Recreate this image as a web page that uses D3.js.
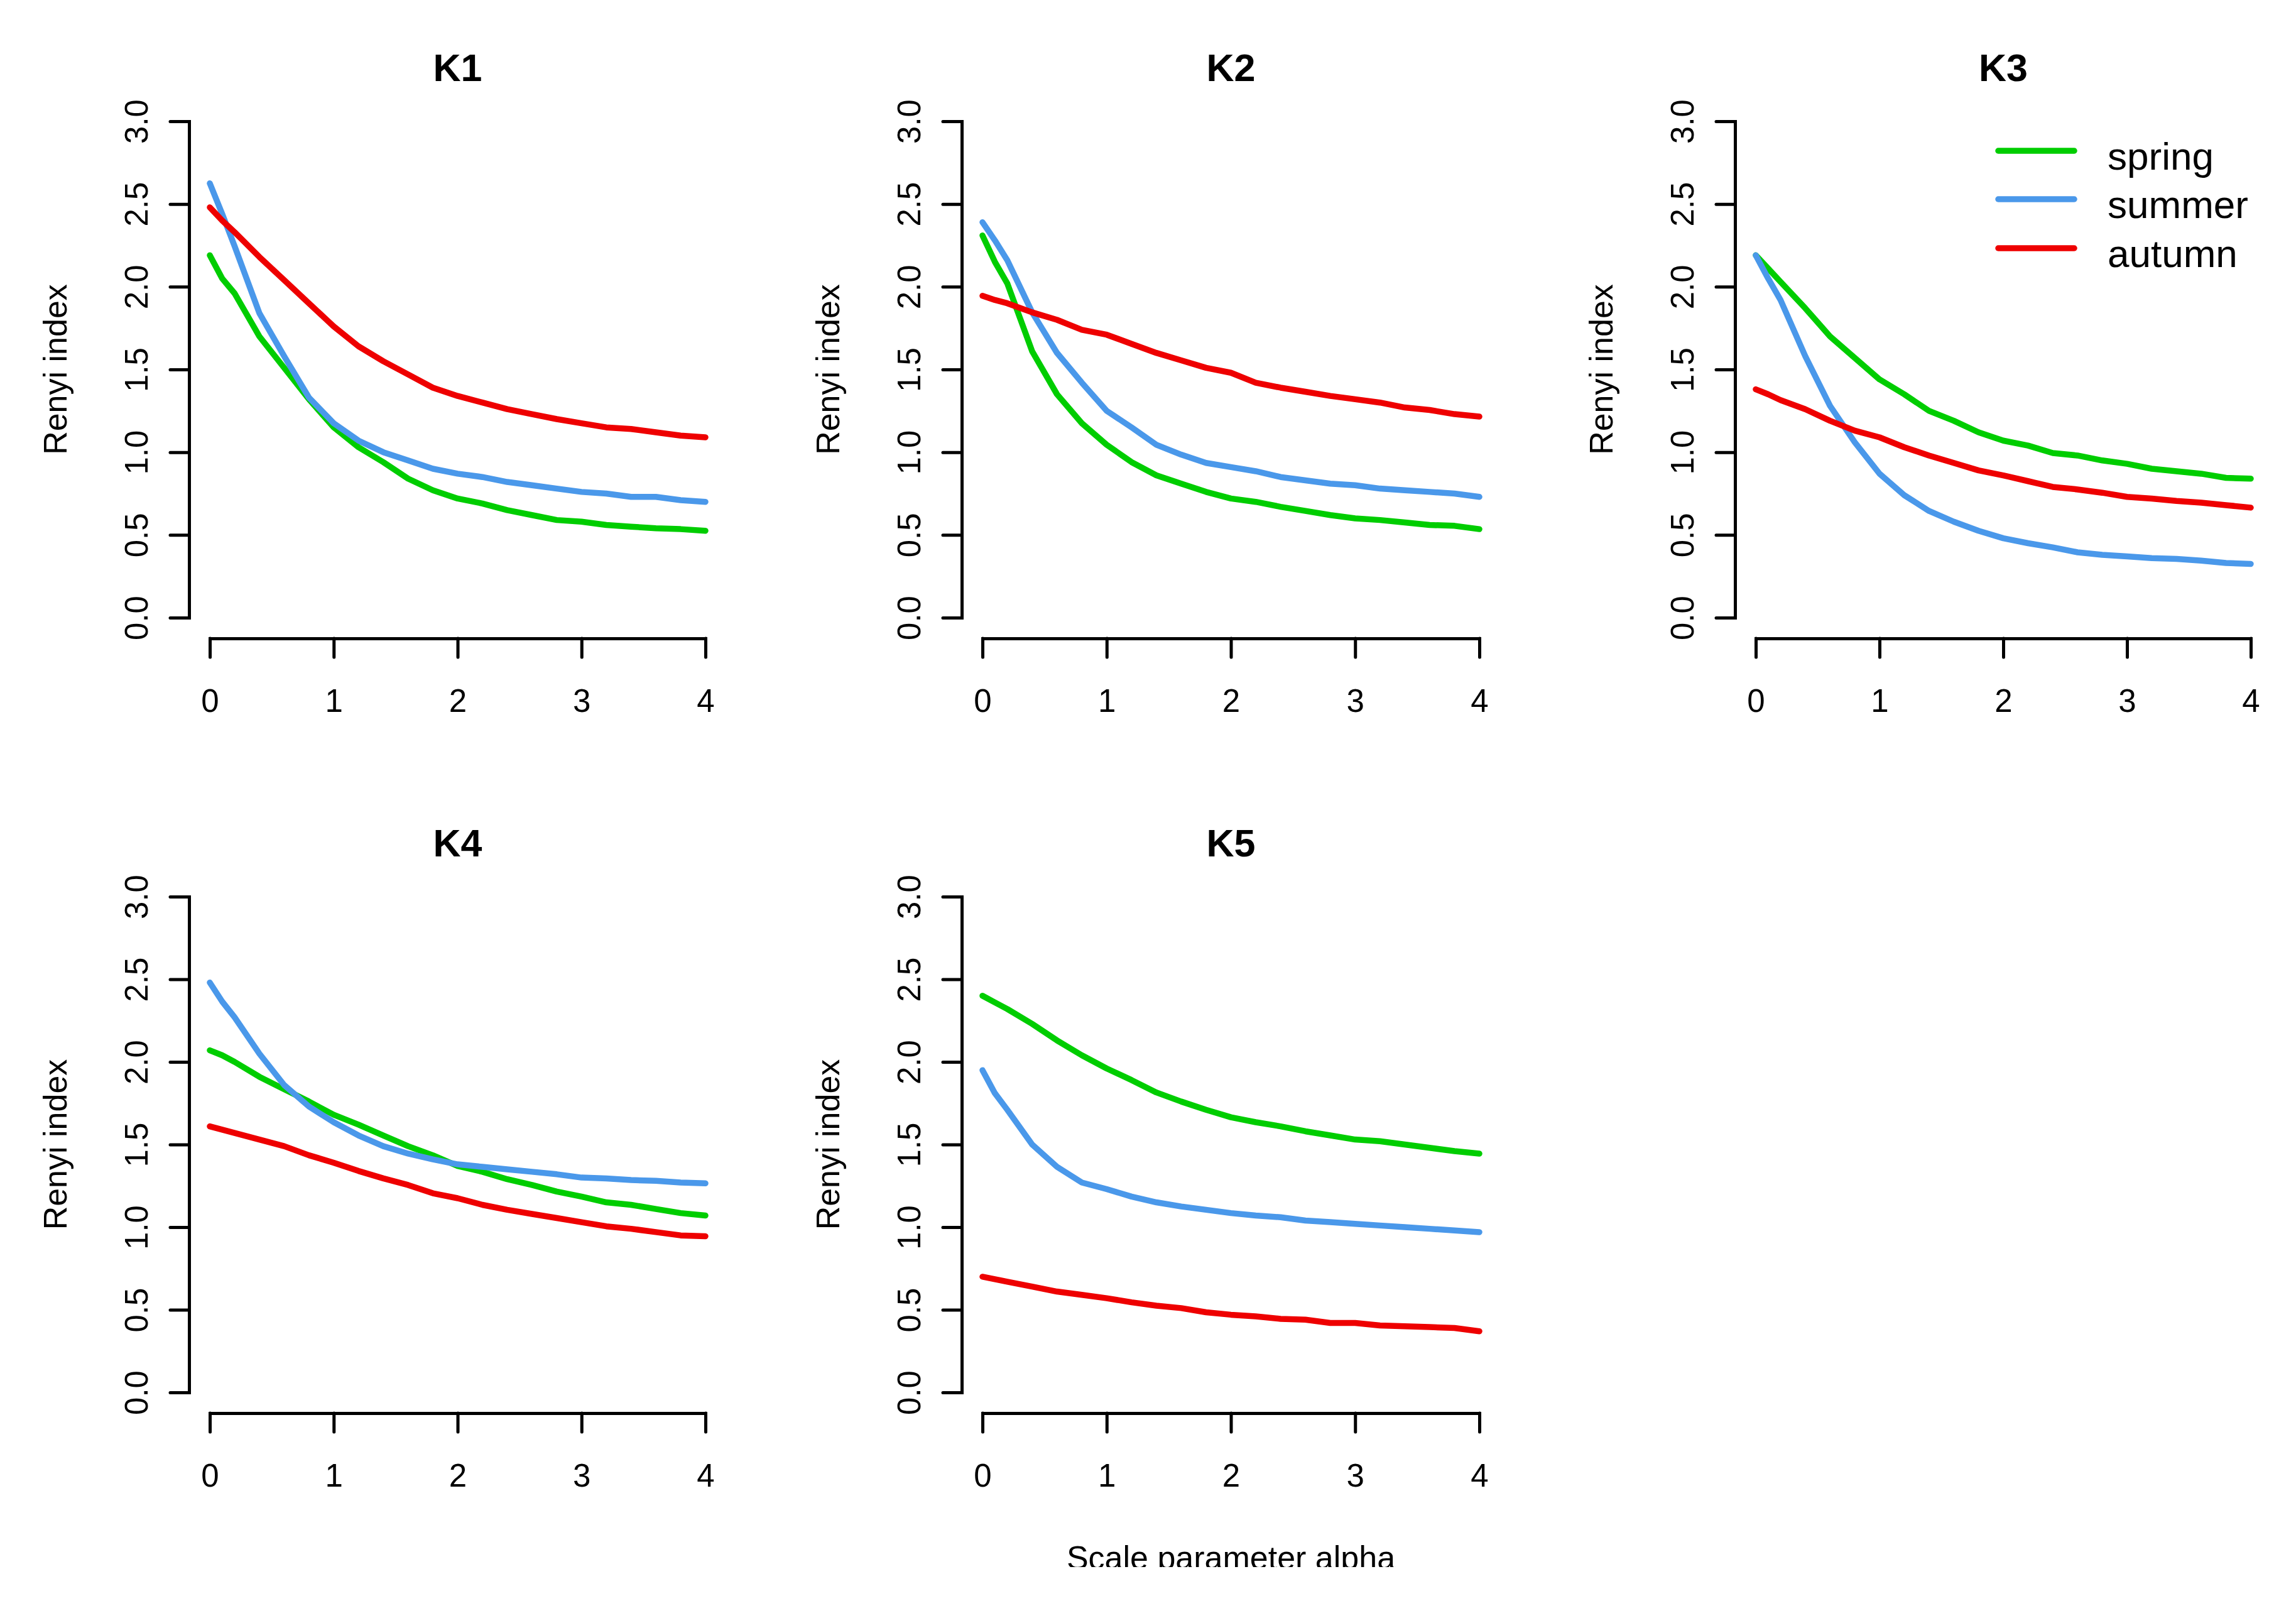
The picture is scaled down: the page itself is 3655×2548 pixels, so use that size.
<!DOCTYPE html>
<html>
<head>
<meta charset="utf-8">
<script src="https://cdn.jsdelivr.net/npm/d3@7"></script>
<style>
  html, body { margin: 0; padding: 0; background: #ffffff; }
  svg { display: block; }
  text { font-family: "Liberation Sans", Arial, sans-serif; fill: #000; }
</style>
</head>
<body>
<svg id="chart" width="3655" height="2548"></svg>
<script>
// ---------------- data ----------------
const alpha = [0,0.1,0.2,0.4,0.6,0.8,1.0,1.2,1.4,1.6,1.8,2.0,2.2,2.4,2.6,2.8,3.0,3.2,3.4,3.6,3.8,4.0];

const K1_spring = [2.19,2.05,1.96,1.70,1.51,1.32,1.15,1.03,0.94,0.84,0.77,0.72,0.69,0.65,0.62,0.59,0.58,0.56,0.55,0.54,0.535,0.525];
const K1_summer = [2.625,2.44,2.245,1.84,1.58,1.33,1.175,1.07,1.00,0.95,0.90,0.87,0.85,0.82,0.80,0.78,0.76,0.75,0.73,0.73,0.71,0.70];
const K1_autumn = [2.48,2.40,2.33,2.18,2.04,1.90,1.76,1.64,1.55,1.47,1.39,1.34,1.30,1.26,1.23,1.20,1.175,1.15,1.14,1.12,1.10,1.09];

const K2_spring = [2.31,2.15,2.02,1.61,1.35,1.175,1.045,0.94,0.86,0.81,0.76,0.72,0.70,0.67,0.645,0.62,0.60,0.59,0.575,0.56,0.555,0.535];
const K2_summer = [2.39,2.28,2.16,1.845,1.60,1.42,1.25,1.15,1.045,0.985,0.935,0.91,0.885,0.85,0.83,0.81,0.80,0.78,0.77,0.76,0.75,0.73];
const K2_autumn = [1.945,1.92,1.90,1.845,1.80,1.74,1.71,1.655,1.60,1.555,1.51,1.48,1.42,1.39,1.365,1.34,1.32,1.30,1.27,1.255,1.23,1.215];

const K3_spring = [2.19,2.11,2.03,1.87,1.70,1.57,1.44,1.35,1.25,1.19,1.12,1.07,1.04,0.995,0.98,0.95,0.93,0.90,0.885,0.87,0.845,0.84];
const K3_summer = [2.19,2.05,1.92,1.58,1.28,1.06,0.87,0.74,0.645,0.58,0.525,0.48,0.45,0.425,0.395,0.38,0.37,0.36,0.355,0.345,0.33,0.325];
const K3_autumn = [1.38,1.35,1.315,1.26,1.19,1.13,1.09,1.03,0.98,0.935,0.89,0.86,0.825,0.79,0.775,0.755,0.73,0.72,0.705,0.695,0.68,0.665];

const K4_spring = [2.07,2.04,2.00,1.91,1.835,1.76,1.68,1.62,1.555,1.49,1.435,1.37,1.335,1.29,1.255,1.215,1.185,1.15,1.135,1.11,1.085,1.07];
const K4_summer = [2.48,2.365,2.27,2.05,1.86,1.73,1.635,1.555,1.49,1.445,1.41,1.38,1.365,1.35,1.335,1.32,1.30,1.295,1.285,1.28,1.27,1.265];
const K4_autumn = [1.61,1.59,1.57,1.53,1.49,1.435,1.39,1.34,1.295,1.255,1.205,1.175,1.135,1.105,1.08,1.055,1.03,1.005,0.99,0.97,0.95,0.945];

const K5_spring = [2.40,2.36,2.32,2.23,2.13,2.04,1.96,1.89,1.815,1.76,1.71,1.665,1.635,1.61,1.58,1.555,1.53,1.52,1.50,1.48,1.46,1.445];
const K5_summer = [1.95,1.81,1.71,1.50,1.365,1.27,1.23,1.185,1.15,1.125,1.105,1.085,1.07,1.06,1.04,1.03,1.02,1.01,1.00,0.99,0.98,0.97];
const K5_autumn = [0.70,0.685,0.67,0.64,0.61,0.59,0.57,0.545,0.525,0.51,0.485,0.47,0.46,0.445,0.44,0.42,0.42,0.405,0.40,0.395,0.39,0.37];

const panelNames = ["K1","K2","K3","K4","K5"];
const seasons = ["spring","summer","autumn"];
const xTicks = [0,1,2,3,4];
const yTicks = [0,0.5,1,1.5,2,2.5,3];
const yLabel = "Renyi index";
const xLabel = "Scale parameter alpha";

// ---------------- styling / layout ----------------
const colors = { spring: "#00CD00", summer: "#4A98EA", autumn: "#EE0000" };
const seriesByPanel = {
  K1: [K1_spring, K1_summer, K1_autumn],
  K2: [K2_spring, K2_summer, K2_autumn],
  K3: [K3_spring, K3_summer, K3_autumn],
  K4: [K4_spring, K4_summer, K4_autumn],
  K5: [K5_spring, K5_summer, K5_autumn]
};
// plot-area geometry (pixels of the data range 0..4 x 0..3)
const layout = {
  K1: { x0: 334,  x1: 1123, yTop: 193,  yBot: 983 },
  K2: { x0: 1564, x1: 2355, yTop: 193,  yBot: 983 },
  K3: { x0: 2795, x1: 3583, yTop: 193,  yBot: 983 },
  K4: { x0: 334,  x1: 1123, yTop: 1427, yBot: 2216 },
  K5: { x0: 1564, x1: 2355, yTop: 1427, yBot: 2216 }
};
const AX_OFF = 33, TICK = 30, AX_W = 5, LINE_W = 9.5;
const FS_TICK = 51, FS_LAB = 52, FS_TITLE = 61, FS_LEG = 62;

const svg = d3.select("#chart");
svg.append("rect").attr("width", 3655).attr("height", 2548).attr("fill", "#fff");

svg.append("defs").append("clipPath").attr("id", "pageclip")
  .append("rect").attr("x", 0).attr("y", 0).attr("width", 3655).attr("height", 2494);

panelNames.forEach(name => {
  const L = layout[name];
  const x = d3.scaleLinear().domain([0, 4]).range([L.x0, L.x1]);
  const y = d3.scaleLinear().domain([0, 3]).range([L.yBot, L.yTop]);
  const g = svg.append("g").attr("class", "panel " + name);

  // x axis
  const xa = g.append("g")
    .attr("transform", `translate(0,${L.yBot + AX_OFF})`)
    .call(d3.axisBottom(x).tickValues(xTicks).tickFormat(d3.format("d")).tickSize(TICK).tickSizeOuter(0));
  xa.select(".domain").attr("stroke-width", AX_W).attr("stroke-linecap", "square");
  xa.selectAll(".tick line").attr("stroke-width", AX_W).attr("stroke-linecap", "round");
  xa.selectAll(".tick text")
    .attr("y", 150 - AX_OFF).attr("dy", null)
    .attr("font-size", FS_TICK).attr("font-family", "Liberation Sans, Arial, sans-serif");

  // y axis
  const ya = g.append("g")
    .attr("transform", `translate(${L.x0 - AX_OFF},0)`)
    .call(d3.axisLeft(y).tickValues(yTicks).tickFormat(d3.format(".1f")).tickSize(TICK).tickSizeOuter(0));
  ya.select(".domain").attr("stroke-width", AX_W).attr("stroke-linecap", "square");
  ya.selectAll(".tick line").attr("stroke-width", AX_W).attr("stroke-linecap", "round");
  ya.selectAll(".tick text")
    .attr("x", null).attr("dy", null)
    .attr("text-anchor", "middle")
    .attr("transform", "translate(-66,0) rotate(-90)")
    .attr("font-size", FS_TICK).attr("font-family", "Liberation Sans, Arial, sans-serif");

  // y label
  g.append("text")
    .attr("transform", `translate(${L.x0 - AX_OFF - 195},${y(1.5)}) rotate(-90)`)
    .attr("text-anchor", "middle")
    .attr("font-size", FS_LAB)
    .text(yLabel);

  // title
  g.append("text")
    .attr("x", (L.x0 + L.x1) / 2)
    .attr("y", L.yTop - 64)
    .attr("text-anchor", "middle")
    .attr("font-weight", "bold")
    .attr("font-size", FS_TITLE)
    .text(name);

  // lines
  const line = d3.line().x((d, i) => x(alpha[i])).y(d => y(d));
  seriesByPanel[name].forEach((vals, si) => {
    g.append("path")
      .datum(vals)
      .attr("d", line)
      .attr("fill", "none")
      .attr("stroke", colors[seasons[si]])
      .attr("stroke-width", LINE_W)
      .attr("stroke-linejoin", "round")
      .attr("stroke-linecap", "round");
  });
});

// x label under K5 (clipped at the bottom like the original)
{
  const L = layout.K5;
  svg.append("text")
    .attr("clip-path", "url(#pageclip)")
    .attr("x", (L.x0 + L.x1) / 2)
    .attr("y", 2497)
    .attr("text-anchor", "middle")
    .attr("font-size", FS_LAB)
    .text(xLabel);
}

// legend in K3
{
  const legRowY = [240, 317, 395];
  const lg = svg.append("g").attr("class", "legend");
  seasons.forEach((s, i) => {
    lg.append("line")
      .attr("x1", 3181).attr("x2", 3302)
      .attr("y1", legRowY[i]).attr("y2", legRowY[i])
      .attr("stroke", colors[s]).attr("stroke-width", LINE_W).attr("stroke-linecap", "round");
    lg.append("text")
      .attr("x", 3355).attr("y", legRowY[i] + 30)
      .attr("font-size", FS_LEG)
      .text(s);
  });
}
</script>
</body>
</html>
